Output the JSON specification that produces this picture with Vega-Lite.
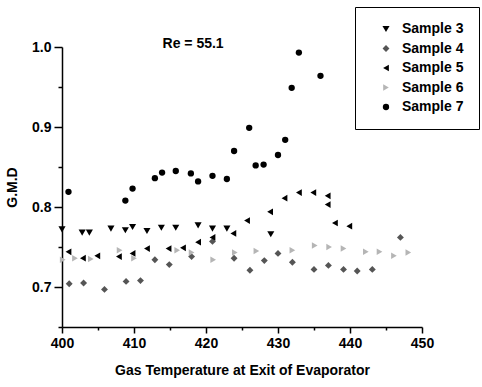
{
  "$schema": "https://vega.github.io/schema/vega-lite/v6.json",
  "width": 360,
  "height": 280,
  "autosize": {"type": "none"},
  "padding": {"left": 62, "top": 47, "right": 60, "bottom": 60},
  "background": "white",
  "config": {
    "view": {"stroke": null},
    "font": "Liberation Sans",
    "legend": {
      "orient": "none",
      "legendX": 293,
      "legendY": -40,
      "strokeColor": "black",
      "fillColor": "white",
      "padding": 15,
      "symbolOffset": 9,
      "labelOffset": 9,
      "rowPadding": 5.5,
      "labelFont": "Liberation Sans",
      "labelFontSize": 14,
      "labelFontWeight": "bold",
      "labelColor": "black",
      "symbolSize": 50
    }
  },
  "title": {
    "text": "Re = 55.1",
    "anchor": "start",
    "dx": 157,
    "dy": 44,
    "offset": 0,
    "fontSize": 14,
    "fontWeight": "bold",
    "font": "Liberation Sans",
    "color": "black"
  },
  "data": {
    "values": [
      {"s": "Sample 3", "t": 400.0, "g": 0.772},
      {"s": "Sample 3", "t": 402.8, "g": 0.768},
      {"s": "Sample 3", "t": 403.8, "g": 0.768},
      {"s": "Sample 3", "t": 406.8, "g": 0.773},
      {"s": "Sample 3", "t": 408.8, "g": 0.771},
      {"s": "Sample 3", "t": 409.8, "g": 0.775},
      {"s": "Sample 3", "t": 411.8, "g": 0.770},
      {"s": "Sample 3", "t": 413.8, "g": 0.774},
      {"s": "Sample 3", "t": 415.8, "g": 0.774},
      {"s": "Sample 3", "t": 418.9, "g": 0.777},
      {"s": "Sample 3", "t": 420.9, "g": 0.773},
      {"s": "Sample 3", "t": 422.9, "g": 0.773},
      {"s": "Sample 3", "t": 429.0, "g": 0.766},
      {"s": "Sample 4", "t": 401.0, "g": 0.704},
      {"s": "Sample 4", "t": 403.0, "g": 0.705},
      {"s": "Sample 4", "t": 405.9, "g": 0.697},
      {"s": "Sample 4", "t": 408.9, "g": 0.707},
      {"s": "Sample 4", "t": 410.9, "g": 0.708},
      {"s": "Sample 4", "t": 412.9, "g": 0.734},
      {"s": "Sample 4", "t": 414.9, "g": 0.728},
      {"s": "Sample 4", "t": 418.0, "g": 0.738},
      {"s": "Sample 4", "t": 420.9, "g": 0.757},
      {"s": "Sample 4", "t": 423.9, "g": 0.736},
      {"s": "Sample 4", "t": 426.1, "g": 0.721},
      {"s": "Sample 4", "t": 428.1, "g": 0.733},
      {"s": "Sample 4", "t": 430.0, "g": 0.742},
      {"s": "Sample 4", "t": 432.0, "g": 0.731},
      {"s": "Sample 4", "t": 435.0, "g": 0.722},
      {"s": "Sample 4", "t": 437.0, "g": 0.727},
      {"s": "Sample 4", "t": 439.1, "g": 0.722},
      {"s": "Sample 4", "t": 441.0, "g": 0.720},
      {"s": "Sample 4", "t": 443.1, "g": 0.722},
      {"s": "Sample 4", "t": 447.0, "g": 0.762},
      {"s": "Sample 5", "t": 400.9, "g": 0.744},
      {"s": "Sample 5", "t": 402.9, "g": 0.736},
      {"s": "Sample 5", "t": 404.9, "g": 0.739},
      {"s": "Sample 5", "t": 407.9, "g": 0.738},
      {"s": "Sample 5", "t": 409.8, "g": 0.742},
      {"s": "Sample 5", "t": 411.8, "g": 0.748},
      {"s": "Sample 5", "t": 414.8, "g": 0.748},
      {"s": "Sample 5", "t": 416.8, "g": 0.749},
      {"s": "Sample 5", "t": 418.9, "g": 0.756},
      {"s": "Sample 5", "t": 420.9, "g": 0.762},
      {"s": "Sample 5", "t": 423.8, "g": 0.767},
      {"s": "Sample 5", "t": 425.7, "g": 0.783},
      {"s": "Sample 5", "t": 428.9, "g": 0.794},
      {"s": "Sample 5", "t": 430.9, "g": 0.811},
      {"s": "Sample 5", "t": 432.9, "g": 0.818},
      {"s": "Sample 5", "t": 434.9, "g": 0.818},
      {"s": "Sample 5", "t": 436.9, "g": 0.814},
      {"s": "Sample 5", "t": 436.9, "g": 0.803},
      {"s": "Sample 5", "t": 437.9, "g": 0.780},
      {"s": "Sample 5", "t": 439.9, "g": 0.776},
      {"s": "Sample 6", "t": 400.1, "g": 0.734},
      {"s": "Sample 6", "t": 401.8, "g": 0.736},
      {"s": "Sample 6", "t": 404.0, "g": 0.735},
      {"s": "Sample 6", "t": 408.0, "g": 0.746},
      {"s": "Sample 6", "t": 410.0, "g": 0.736},
      {"s": "Sample 6", "t": 416.0, "g": 0.746},
      {"s": "Sample 6", "t": 418.0, "g": 0.743},
      {"s": "Sample 6", "t": 421.0, "g": 0.734},
      {"s": "Sample 6", "t": 424.0, "g": 0.743},
      {"s": "Sample 6", "t": 427.0, "g": 0.745},
      {"s": "Sample 6", "t": 432.0, "g": 0.746},
      {"s": "Sample 6", "t": 435.1, "g": 0.752},
      {"s": "Sample 6", "t": 437.1, "g": 0.750},
      {"s": "Sample 6", "t": 439.1, "g": 0.748},
      {"s": "Sample 6", "t": 442.2, "g": 0.744},
      {"s": "Sample 6", "t": 444.1, "g": 0.744},
      {"s": "Sample 6", "t": 446.1, "g": 0.739},
      {"s": "Sample 6", "t": 448.1, "g": 0.743},
      {"s": "Sample 7", "t": 400.9, "g": 0.819},
      {"s": "Sample 7", "t": 408.8, "g": 0.808},
      {"s": "Sample 7", "t": 409.8, "g": 0.823},
      {"s": "Sample 7", "t": 412.9, "g": 0.836},
      {"s": "Sample 7", "t": 413.9, "g": 0.843},
      {"s": "Sample 7", "t": 415.8, "g": 0.845},
      {"s": "Sample 7", "t": 417.9, "g": 0.842},
      {"s": "Sample 7", "t": 418.9, "g": 0.832},
      {"s": "Sample 7", "t": 420.9, "g": 0.839},
      {"s": "Sample 7", "t": 422.9, "g": 0.835},
      {"s": "Sample 7", "t": 423.9, "g": 0.870},
      {"s": "Sample 7", "t": 426.0, "g": 0.899},
      {"s": "Sample 7", "t": 426.9, "g": 0.852},
      {"s": "Sample 7", "t": 428.0, "g": 0.853},
      {"s": "Sample 7", "t": 430.0, "g": 0.865},
      {"s": "Sample 7", "t": 431.0, "g": 0.884},
      {"s": "Sample 7", "t": 431.9, "g": 0.949},
      {"s": "Sample 7", "t": 432.9, "g": 0.993},
      {"s": "Sample 7", "t": 435.9, "g": 0.964}
    ]
  },
  "mark": {"type": "point", "filled": true, "opacity": 1, "strokeWidth": 0.8},
  "encoding": {
    "x": {
      "field": "t",
      "type": "quantitative",
      "scale": {"domain": [400, 450], "nice": false, "zero": false},
      "axis": {
        "title": "Gas Temperature at Exit of Evaporator",
        "values": [400, 405, 410, 415, 420, 425, 430, 435, 440, 445, 450],
        "labelExpr": "datum.value % 10 === 0 ? datum.label : ''",
        "tickSize": {"condition": {"test": "datum.value % 10 === 0", "value": 6}, "value": 3},
        "grid": false,
        "domainColor": "black",
        "domainWidth": 1.5,
        "tickColor": "black",
        "tickWidth": 1.5,
        "labelColor": "black",
        "labelFont": "Liberation Sans",
        "labelFontSize": 14,
        "labelFontWeight": "bold",
        "labelPadding": 3,
        "labelFlush": false,
        "labelOverlap": false,
        "titleFont": "Liberation Sans",
        "titleFontSize": 14,
        "titleFontWeight": "bold",
        "titleColor": "black",
        "titlePadding": 13
      }
    },
    "y": {
      "field": "g",
      "type": "quantitative",
      "scale": {"domain": [0.65, 1.0], "nice": false, "zero": false},
      "axis": {
        "title": "G.M.D",
        "values": [0.65, 0.7, 0.75, 0.8, 0.85, 0.9, 0.95, 1.0],
        "labelExpr": "abs(datum.value * 10 - round(datum.value * 10)) < 0.01 ? format(datum.value, '.1f') : ''",
        "tickSize": {"condition": {"test": "abs(datum.value * 10 - round(datum.value * 10)) < 0.01", "value": 8}, "value": 4},
        "grid": false,
        "domainColor": "black",
        "domainWidth": 1.5,
        "tickColor": "black",
        "tickWidth": 1.5,
        "labelColor": "black",
        "labelFont": "Liberation Sans",
        "labelFontSize": 14,
        "labelFontWeight": "bold",
        "labelPadding": 3,
        "labelFlush": false,
        "labelOverlap": false,
        "titleFont": "Liberation Sans",
        "titleFontSize": 14,
        "titleFontWeight": "bold",
        "titleColor": "black",
        "titlePadding": 12
      }
    },
    "shape": {
      "field": "s",
      "type": "nominal",
      "scale": {
        "domain": ["Sample 3", "Sample 4", "Sample 5", "Sample 6", "Sample 7"],
        "range": ["triangle-down", "diamond", "triangle-left", "triangle-right", "circle"]
      },
      "legend": {"title": null}
    },
    "color": {
      "field": "s",
      "type": "nominal",
      "scale": {
        "domain": ["Sample 3", "Sample 4", "Sample 5", "Sample 6", "Sample 7"],
        "range": ["#000000", "#555555", "#000000", "#b5b5b5", "#000000"]
      },
      "legend": {"title": null}
    },
    "size": {
      "field": "s",
      "type": "nominal",
      "scale": {
        "domain": ["Sample 3", "Sample 4", "Sample 5", "Sample 6", "Sample 7"],
        "range": [50, 40, 50, 22, 45]
      },
      "legend": null
    }
  }
}
